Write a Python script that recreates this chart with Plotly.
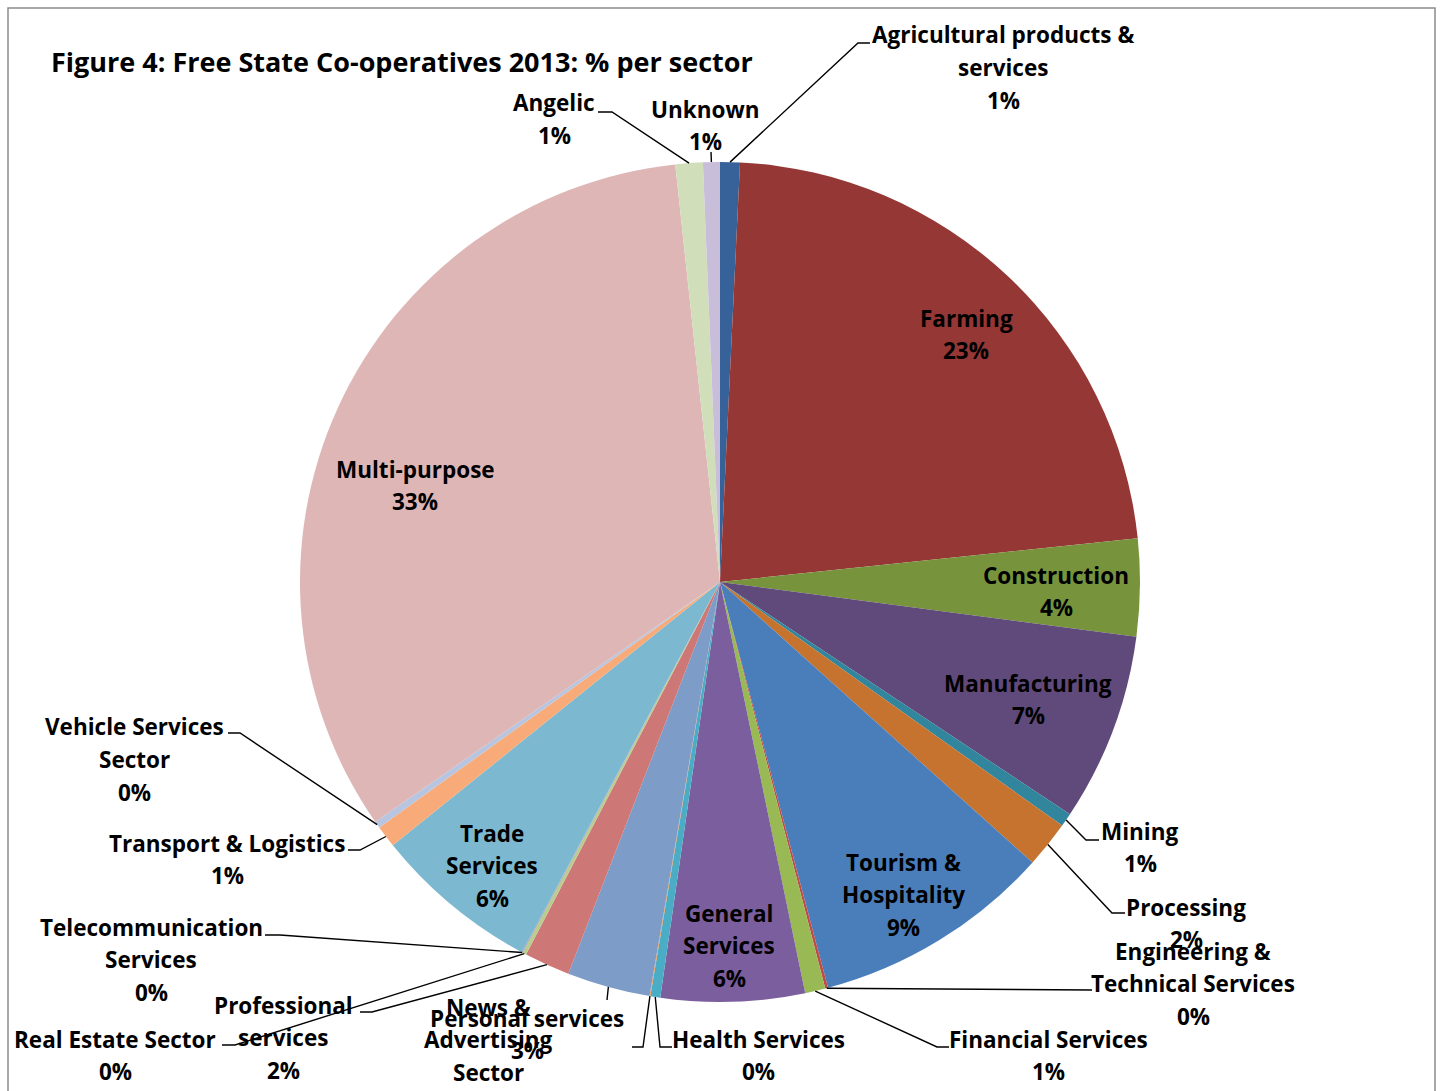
import math
import plotly.graph_objects as go

# Sector shares (% of co-operatives), in clockwise order from 12 o'clock
sectors = [
    "Agricultural products & services", "Farming", "Construction", "Manufacturing",
    "Mining", "Processing", "Tourism & Hospitality", "Engineering & Technical Services",
    "Financial Services", "General Services", "Health Services", "News & Advertising Sector",
    "Personal services", "Professional services", "Real Estate Sector",
    "Telecommunication Services", "Trade Services", "Transport & Logistics",
    "Vehicle Services Sector", "Multi-purpose", "Angelic", "Unknown",
]
shares = [
    0.76, 22.6, 3.74, 7.25,
    0.52, 1.8, 9.22, 0.11,
    0.78, 5.53, 0.38, 0.03,
    3.2, 1.76, 0.15,
    0.03, 6.4, 0.85,
    0.26, 33.0, 1.05, 0.65,
]
colors = [
    "#376299", "#953735", "#77933C", "#604A7B",
    "#31859C", "#C5732F", "#4A7EBB", "#BE4B48",
    "#98B954", "#7B5E9E", "#4BACC6", "#F79646",
    "#7E9CC8", "#CD7876", "#B9CE8E",
    "#A491C0", "#7CB9D0", "#F8AB78",
    "#B7C5E0", "#DEB6B5", "#D0DEBA", "#C8BEDA",
]

# Label text broken into lines as printed
label_lines = {
    "Agricultural products & services": ["Agricultural products &", "services"],
    "Farming": ["Farming"],
    "Construction": ["Construction"],
    "Manufacturing": ["Manufacturing"],
    "Mining": ["Mining"],
    "Processing": ["Processing"],
    "Tourism & Hospitality": ["Tourism &", "Hospitality"],
    "Engineering & Technical Services": ["Engineering &", "Technical Services"],
    "Financial Services": ["Financial Services"],
    "General Services": ["General", "Services"],
    "Health Services": ["Health Services"],
    "News & Advertising Sector": ["News &", "Advertising", "Sector"],
    "Personal services": ["Personal services"],
    "Professional services": ["Professional", "services"],
    "Real Estate Sector": ["Real Estate Sector"],
    "Telecommunication Services": ["Telecommunication", "Services"],
    "Trade Services": ["Trade", "Services"],
    "Transport & Logistics": ["Transport & Logistics"],
    "Vehicle Services Sector": ["Vehicle Services", "Sector"],
    "Multi-purpose": ["Multi-purpose"],
    "Angelic": ["Angelic"],
    "Unknown": ["Unknown"],
}

# The News & Advertising percentage runs below the frame, so only its name is set
hide_pct = {"News & Advertising Sector"}

# Page geometry (pixels)
W, H = 1442, 1091
CX, CY, R = 720, 582, 420
LINE_GAP = 32.5
FONT = "Open Sans"
FS = 22.5


def px(x):
    return x / W


def py(y):
    return 1 - y / H


# Label block placement: centre x and first-line y (pixels)
label_pos = {
    "Agricultural products & services": (1003, 35),
    "Farming": (966, 318),
    "Construction": (1056, 575),
    "Manufacturing": (1028, 683),
    "Mining": (1140, 831),
    "Processing": (1186, 907),
    "Tourism & Hospitality": (903, 862),
    "Engineering & Technical Services": (1193, 951),
    "Financial Services": (1048, 1039),
    "General Services": (729, 913),
    "Health Services": (758, 1039),
    "News & Advertising Sector": (488, 1007),
    "Personal services": (527, 1018),
    "Professional services": (283, 1005),
    "Real Estate Sector": (115, 1039),
    "Telecommunication Services": (151, 927),
    "Trade Services": (492, 833),
    "Transport & Logistics": (227, 843),
    "Vehicle Services Sector": (134, 727),
    "Multi-purpose": (415, 469),
    "Angelic": (554, 103),
    "Unknown": (705, 109),
}

# Leader line bends: pixel points running from the label towards the slice
leaders = {
    "Agricultural products & services": [(870, 43), (858, 43)],
    "Angelic": [(598, 112), (612, 112)],
    "Unknown": [(711, 152)],
    "Mining": [(1099, 840), (1086, 840)],
    "Processing": [(1125, 913), (1112, 913)],
    "Engineering & Technical Services": [(1092, 990)],
    "Financial Services": [(949, 1047), (937, 1047)],
    "Health Services": [(672, 1047), (660, 1047)],
    "News & Advertising Sector": [(632, 1047), (643, 1047)],
    "Personal services": [(607, 1000)],
    "Professional services": [(360, 1012), (372, 1012)],
    "Real Estate Sector": [(222, 1045), (235, 1045)],
    "Telecommunication Services": [(265, 935), (280, 935)],
    "Transport & Logistics": [(348, 850), (360, 850)],
    "Vehicle Services Sector": [(228, 733), (240, 733)],
}

total = sum(shares)
pct_text = [f"{round(v / total * 100):.0f}%" for v in shares]

# Mid-angle of every slice, clockwise from 12 o'clock
mid_angle = {}
acc = 0.0
for name, v in zip(sectors, shares):
    a0 = acc / total * 360
    acc += v
    a1 = acc / total * 360
    mid_angle[name] = (a0 + a1) / 2


def rim_point(name):
    a = math.radians(mid_angle[name])
    return CX + R * math.sin(a), CY - R * math.cos(a)


fig = go.Figure()
fig.add_trace(go.Pie(
    labels=sectors,
    values=shares,
    sort=False,
    direction="clockwise",
    rotation=0,
    marker=dict(colors=colors, line=dict(width=0)),
    textinfo="none",
    hoverinfo="label+percent",
    showlegend=False,
    domain=dict(x=[px(CX - R), px(CX + R)], y=[py(CY + R), py(CY - R)]),
))

annotations = []
for name, pct in zip(sectors, pct_text):
    x0, y0 = label_pos[name]
    lines = list(label_lines[name])
    if name not in hide_pct:
        lines.append(pct)
    for i, line in enumerate(lines):
        annotations.append(dict(
            x=px(x0), y=py(y0 + i * LINE_GAP), xref="paper", yref="paper",
            text=f"<b>{line}</b>", showarrow=False,
            xanchor="center", yanchor="middle",
            font=dict(family=FONT, size=FS, color="#000000"),
        ))

annotations.append(dict(
    x=px(49), y=py(61), xref="paper", yref="paper",
    text="<b>Figure 4: Free State Co-operatives 2013: % per sector</b>",
    showarrow=False, xanchor="left", yanchor="middle",
    font=dict(family=FONT, size=27, color="#000000"),
))

shapes = []
for name, pts in leaders.items():
    path_pts = pts + [rim_point(name)]
    d = "M " + " L ".join(f"{px(x):.5f},{py(y):.5f}" for x, y in path_pts)
    shapes.append(dict(type="path", path=d, xref="paper", yref="paper",
                       line=dict(color="#000000", width=1.4)))

# Chart frame
shapes.append(dict(type="rect", xref="paper", yref="paper",
                   x0=px(8), x1=px(1435), y0=py(1100), y1=py(8),
                   line=dict(color="#8C8C8C", width=1.5)))

fig.update_layout(
    width=W, height=H,
    margin=dict(l=0, r=0, t=0, b=0),
    paper_bgcolor="#FFFFFF",
    plot_bgcolor="#FFFFFF",
    annotations=annotations,
    shapes=shapes,
)

fig.write_html("out.html")
